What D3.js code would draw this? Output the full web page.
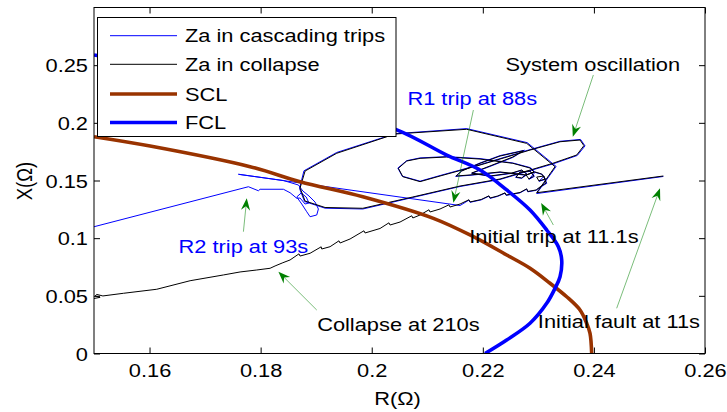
<!DOCTYPE html>
<html><head><meta charset="utf-8">
<script src="https://cdn.jsdelivr.net/npm/d3@7"></script>
<style>html,body{margin:0;padding:0;background:#fff}svg{display:block}</style>
</head><body><svg id="chart" width="727" height="412"></svg>
<script>
// Axis ticks
const R_TICKS = [0.16, 0.18, 0.2, 0.22, 0.24, 0.26];
const X_TICKS = [0, 0.05, 0.1, 0.15, 0.2, 0.25];

// Static capability limit (R, X)
const sclCurve = [[0.1500,0.1880],[0.1601,0.1799],[0.1781,0.1620],[0.1871,0.1490],[0.1984,0.1359],
  [0.2111,0.1172],[0.2183,0.1013],[0.2243,0.0854],[0.2285,0.0739],[0.2321,0.0609],[0.2351,0.0492],
  [0.2375,0.0377],[0.2387,0.0262],[0.2393,0.0175],[0.2396,0.0000]];

// Fault capability limit (R, X)
const fclCurve = [[0.1500,0.2588],[0.1781,0.2328],[0.2042,0.1946],[0.2135,0.1721],[0.2195,0.1591],
  [0.2243,0.1418],[0.2285,0.1244],[0.2315,0.1071],[0.2336,0.0926],[0.2342,0.0811],[0.2339,0.0666],
  [0.2330,0.0565],[0.2315,0.0435],[0.2285,0.0262],[0.2243,0.0117],[0.2204,0.0000]];

// Apparent impedance during the cascading trips (R, X)
const zaCascade = [[0.2525,0.1535],[0.2297,0.1387],[0.2332,0.1622],[0.2280,0.1828],[0.2171,0.1950],
  [0.2042,0.1906],[0.1937,0.1743],[0.1878,0.1584],[0.1870,0.1431],[0.1879,0.1318],[0.1916,0.1260],
  [0.1984,0.1253],[0.2074,0.1353],[0.2159,0.1448],[0.2231,0.1509],[0.2327,0.1645],[0.2370,0.1717],
  [0.2384,0.1800],[0.2376,0.1856],[0.2339,0.1840],[0.2285,0.1768],[0.2195,0.1638],[0.2123,0.1543],
  [0.2087,0.1494],[0.2055,0.1537],[0.2047,0.1608],[0.2063,0.1672],[0.2087,0.1696],[0.2135,0.1707],
  [0.2195,0.1690],[0.2254,0.1652],[0.2286,0.1611],[0.2293,0.1577],[0.2278,0.1545],[0.2231,0.1571],
  [0.2177,0.1545],[0.2151,0.1536],[0.2162,0.1585],[0.2195,0.1652],[0.2231,0.1716],[0.2275,0.1762],
  [0.2254,0.1700],[0.2213,0.1622],[0.2180,0.1562],[0.2213,0.1536],[0.2252,0.1562],[0.2270,0.1588],
  [0.2280,0.1553],[0.2270,0.1519],[0.2259,0.1527],[0.2267,0.1571],[0.2285,0.1579],[0.2293,0.1536],
  [0.2283,0.1510],[0.2294,0.1571],[0.2307,0.1553],[0.2313,0.1510],[0.2301,0.1493],[0.2310,0.1536],
  [0.2315,0.1475],[0.2303,0.1441],[0.2296,0.1415],[0.2281,0.1402],[0.2279,0.1425],[0.2267,0.1393],
  [0.2242,0.1371],[0.2240,0.1390],[0.2227,0.1363],[0.2213,0.1345],[0.2211,0.1364],[0.2197,0.1332],
  [0.2177,0.1311],[0.2175,0.1330],[0.2159,0.1283],
  [0.1760,0.1554],[0.1841,0.1500],[0.1868,0.1461],[0.1876,0.1409],[0.1887,0.1366],[0.1898,0.1313],
  [0.1904,0.1253],[0.1901,0.1201],[0.1889,0.1186],[0.1883,0.1229],[0.1874,0.1296],[0.1865,0.1357],
  [0.1873,0.1392],[0.1882,0.1357],[0.1887,0.1305],[0.1880,0.1296],[0.1871,0.1348],[0.1865,0.1346],
  [0.1853,0.1394],[0.1841,0.1424],[0.1799,0.1424],[0.1796,0.1411],[0.1778,0.1446],[0.1500,0.1099]];

// Apparent impedance during the collapse (R, X)
const zaCollapse = [[0.2525,0.1539],[0.2297,0.1394],[0.2330,0.1620],[0.2279,0.1822],[0.2171,0.1944],
  [0.2042,0.1903],[0.1937,0.1736],[0.1880,0.1582],[0.1871,0.1435],[0.1880,0.1322],[0.1916,0.1266],
  [0.1984,0.1259],[0.2074,0.1357],[0.2159,0.1452],[0.2231,0.1513],[0.2326,0.1649],[0.2369,0.1721],
  [0.2382,0.1802],[0.2375,0.1851],[0.2339,0.1836],[0.2285,0.1764],[0.2195,0.1634],[0.2123,0.1539],
  [0.2087,0.1490],[0.2056,0.1533],[0.2048,0.1606],[0.2063,0.1669],[0.2087,0.1692],[0.2135,0.1704],
  [0.2195,0.1686],[0.2254,0.1649],[0.2285,0.1608],[0.2292,0.1574],[0.2278,0.1548],[0.2231,0.1574],
  [0.2177,0.1548],[0.2152,0.1539],[0.2162,0.1582],[0.2195,0.1649],[0.2231,0.1712],[0.2273,0.1758],
  [0.2254,0.1704],[0.2213,0.1626],[0.2180,0.1565],[0.2213,0.1539],[0.2252,0.1565],[0.2270,0.1591],
  [0.2279,0.1556],[0.2270,0.1522],[0.2260,0.1530],[0.2267,0.1574],[0.2285,0.1582],[0.2292,0.1539],
  [0.2283,0.1513],[0.2278,0.1548],[0.2294,0.1574],[0.2306,0.1556],[0.2312,0.1513],[0.2301,0.1496],
  [0.2297,0.1530],[0.2310,0.1539],[0.2314,0.1478],[0.2303,0.1444],
  [0.2296,0.1418],[0.2281,0.1405],[0.2279,0.1428],[0.2267,0.1396],[0.2242,0.1374],[0.2240,0.1393],
  [0.2227,0.1366],[0.2213,0.1348],[0.2211,0.1367],[0.2197,0.1335],[0.2177,0.1314],[0.2175,0.1333],
  [0.2159,0.1296],[0.2141,0.1270],[0.2139,0.1289],[0.2123,0.1253],[0.2105,0.1227],[0.2103,0.1246],
  [0.2087,0.1201],[0.2074,0.1175],[0.2072,0.1194],[0.2051,0.1140],[0.2033,0.1114],[0.2031,0.1133],
  [0.2015,0.1084],[0.1988,0.1045],[0.1986,0.1064],[0.1961,0.0993],[0.1943,0.0958],[0.1941,0.0977],
  [0.1925,0.0926],[0.1910,0.0906],[0.1909,0.0925],[0.1889,0.0869],[0.1871,0.0845],[0.1869,0.0864],
  [0.1853,0.0811],[0.1840,0.0787],[0.1826,0.0759],[0.1817,0.0739],[0.1793,0.0724],[0.1763,0.0707],
  [0.1733,0.0681],[0.1673,0.0631],[0.1613,0.0557],[0.1553,0.0522],[0.1516,0.0499],[0.1505,0.0512],
  [0.1502,0.0499],[0.1511,0.0487],[0.1500,0.0477]];

// Event annotations: label text, colour, label anchor (R, X), arrow tail (R, X), arrow tip (R, X)
const noteText   = ["System oscillation", "R1 trip at 88s", "R2 trip at 93s", "Initial trip at 11.1s", "Initial fault at 11s", "Collapse at 210s"];
const noteColor  = ["#000000", "#0000ff", "#0000ff", "#000000", "#000000", "#000000"];
const noteAnchor = [[0.2398,0.2449],[0.2181,0.2155],[0.1769,0.0869],[0.2328,0.0955],[0.2445,0.0218],[0.2048,0.0195]];
const arrowTail  = [[0.2399,0.2415],[0.2183,0.2111],[0.1769,0.1056],[0.2327,0.1114],[0.2441,0.0392],[0.1901,0.0377]];
const arrowTip   = [[0.2362,0.1880],[0.2147,0.1307],[0.1775,0.1346],[0.2305,0.1305],[0.2519,0.1432],[0.1832,0.0709]];

const legendLabels = ["Za in cascading trips", "Za in collapse", "SCL", "FCL"];
const seriesColor  = ["#0000ff", "#000000", "#993300", "#0000ff"];
const seriesWidth  = [1, 1, 3.6, 3.6];

// ---- layout ----
const svg = d3.select("#chart");
const L = 94, Rt = 705, T = 7.5, B = 353.5;
const FONT = "'Liberation Sans', Arial, Helvetica, sans-serif";
const FS = 18.5, SX = 1.18;

const x = d3.scaleLinear().domain([0.15, 0.26]).range([L, Rt]);
const y = d3.scaleLinear().domain([0, 0.3]).range([B, T]);

svg.append("rect").attr("width", 727).attr("height", 412).attr("fill", "#fff");

svg.append("defs").append("clipPath").attr("id", "plotClip")
  .append("rect").attr("x", L).attr("y", T).attr("width", Rt - L).attr("height", B - T);

function styleText(sel) {
  return sel.attr("font-family", FONT).attr("font-size", FS).attr("fill", "#000");
}

// axes: ticks point inward on all four sides
const gBottom = svg.append("g").attr("transform", `translate(0,${B})`)
  .call(d3.axisBottom(x).tickValues(R_TICKS).tickSize(-6).tickFormat(d => String(d)));
const gTop = svg.append("g").attr("transform", `translate(0,${T})`)
  .call(d3.axisTop(x).tickValues(R_TICKS).tickSize(-6).tickFormat(""));
const gLeft = svg.append("g").attr("transform", `translate(${L},0)`)
  .call(d3.axisLeft(y).tickValues(X_TICKS).tickSize(-6).tickFormat(d => String(d)));
const gRight = svg.append("g").attr("transform", `translate(${Rt},0)`)
  .call(d3.axisRight(y).tickValues(X_TICKS).tickSize(-6).tickFormat(""));

[gBottom, gTop, gLeft, gRight].forEach(g => {
  g.select(".domain").remove();
  g.selectAll(".tick line").attr("stroke", "#000").attr("stroke-width", 1);
});
gBottom.selectAll(".tick text")
  .attr("dy", null).attr("y", null)
  .attr("transform", `translate(0,23) scale(${SX},1)`)
  .attr("text-anchor", "middle");
gLeft.selectAll(".tick text")
  .attr("dy", null).attr("x", null)
  .attr("transform", `translate(-6,6.5) scale(${SX},1)`)
  .attr("text-anchor", "end");
[gBottom, gLeft].forEach(g => styleText(g.selectAll(".tick text")));

// axis titles
styleText(svg.append("text"))
  .attr("transform", `translate(${(L + Rt) / 2 - 2},405) scale(${SX},1)`)
  .attr("text-anchor", "middle").text("R(\u03A9)");
styleText(svg.append("text"))
  .attr("transform", `translate(32,181) rotate(-90) scale(1,${SX})`)
  .attr("text-anchor", "middle").text("X(\u03A9)");

// curves: trajectories as sampled polylines, limit curves smoothed
const poly = d3.line().x(d => x(d[0])).y(d => y(d[1]));
const smooth = d3.line().x(d => x(d[0])).y(d => y(d[1])).curve(d3.curveCatmullRom.alpha(0.5));
const plot = svg.append("g").attr("clip-path", "url(#plotClip)");
[zaCascade, zaCollapse, sclCurve, fclCurve].forEach((data, i) => {
  plot.append("path").datum(data).attr("d", i < 2 ? poly : smooth)
    .attr("fill", "none").attr("stroke", seriesColor[i])
    .attr("stroke-width", seriesWidth[i]).attr("stroke-linejoin", "round");
});

// annotations
const green = "#008000";
noteText.forEach((t, i) => {
  const x0 = x(arrowTail[i][0]), y0 = y(arrowTail[i][1]);
  const x1 = x(arrowTip[i][0]), y1 = y(arrowTip[i][1]);
  const ang = Math.atan2(y1 - y0, x1 - x0);
  const len = 12, wid = 4.6, notch = 8;
  const ux = Math.cos(ang), uy = Math.sin(ang), px = -uy, py = ux;
  const bx = x1 - ux * len, by = y1 - uy * len;
  svg.append("line").attr("x1", x0).attr("y1", y0)
    .attr("x2", x1 - ux * notch).attr("y2", y1 - uy * notch)
    .attr("stroke", green).attr("stroke-width", 0.7).attr("stroke-opacity", 0.75);
  svg.append("path")
    .attr("d", `M${x1},${y1}L${bx + px * wid},${by + py * wid}L${x1 - ux * notch},${y1 - uy * notch}L${bx - px * wid},${by - py * wid}Z`)
    .attr("fill", green);
  styleText(svg.append("text"))
    .attr("transform", `translate(${x(noteAnchor[i][0])},${y(noteAnchor[i][1])}) scale(${SX},1)`)
    .attr("text-anchor", "middle").attr("fill", noteColor[i]).text(t);
});

// legend
const lg = svg.append("g");
lg.append("rect").attr("x", 97.5).attr("y", 17.5).attr("width", 298.5).attr("height", 119)
  .attr("fill", "#fff").attr("stroke", "#000").attr("stroke-width", 1);
const rowY = [35.7, 64.3, 94, 122.5];
legendLabels.forEach((lab, i) => {
  lg.append("line").attr("x1", 110).attr("x2", 177).attr("y1", rowY[i]).attr("y2", rowY[i])
    .attr("stroke", seriesColor[i]).attr("stroke-width", seriesWidth[i]);
  styleText(lg.append("text"))
    .attr("transform", `translate(185,${rowY[i] + 6.6}) scale(${SX},1)`).text(lab);
});

// frame
svg.append("rect").attr("x", L).attr("y", T).attr("width", Rt - L).attr("height", B - T)
  .attr("fill", "none").attr("stroke", "#000").attr("stroke-width", 1);
</script></body></html>
